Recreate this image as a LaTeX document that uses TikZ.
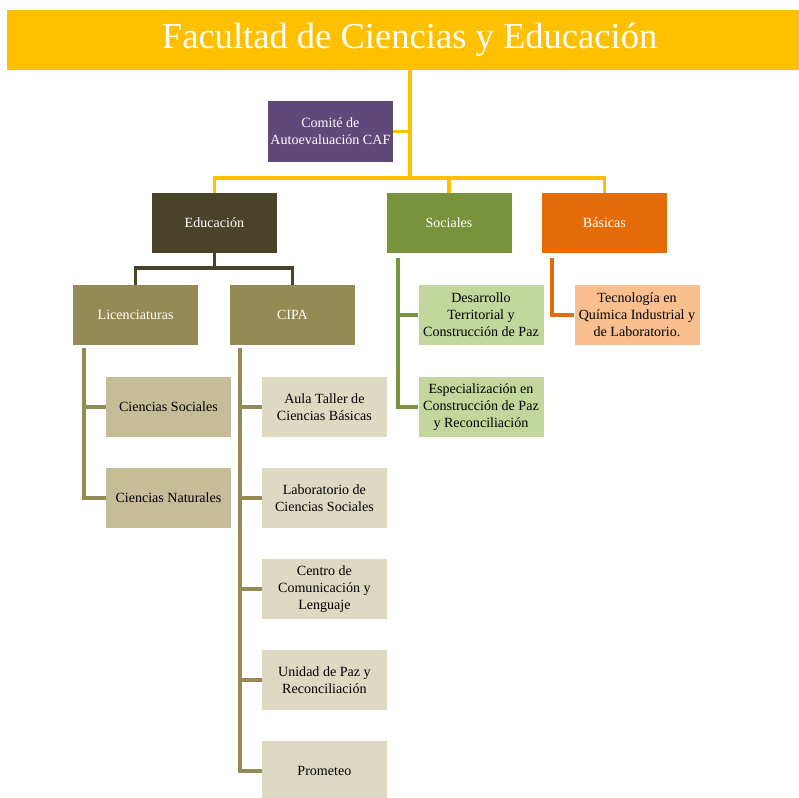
\documentclass[tikz,border=0pt]{standalone}
\usepackage{fontspec}
\setmainfont{Liberation Serif}
\usepackage{tikz}
\definecolor{cafyellow}{HTML}{FFC000}
\definecolor{cafpurple}{HTML}{5F497A}
\definecolor{cafdark}{HTML}{494429}
\definecolor{cafgreen}{HTML}{77933C}
\definecolor{caforange}{HTML}{E36C09}
\definecolor{cafolive}{HTML}{948A54}
\definecolor{caftan}{HTML}{C4BD97}
\definecolor{cafsand}{HTML}{DDD9C3}
\definecolor{caflime}{HTML}{C3D69B}
\definecolor{cafpeach}{HTML}{FABF8F}

\begin{document}
\begin{tikzpicture}[line join=miter,x=1.0cm,y=1.0cm,
  box/.style={rectangle,minimum width=3.125cm,minimum height=1.5cm,align=center,inner sep=1pt,font=\fontsize{10}{12}\selectfont},
  conn/.style={line width=2.6pt}]
\useasboundingbox (0,0) rectangle (19.975,19.95);
\node[fill=cafyellow,text=white,minimum width=20.13cm,minimum height=1.5cm,font=\fontsize{26}{30}\selectfont] (titulo) at (10.24,18.95) {Facultad de Ciencias y Educación};
\node[box,fill=cafpurple,text=white,minimum height=1.525cm] (comite) at (8.26,16.66) {Comité de\\Autoevaluación CAF};
\node[box,fill=cafdark,text=white] (edu) at (5.36,14.375) {Educación};
\node[box,fill=cafgreen,text=white] (soc) at (11.225,14.375) {Sociales};
\node[box,fill=caforange,text=white] (bas) at (15.11,14.375) {Básicas};
\node[box,fill=cafolive,text=white] (lic) at (3.39,12.075) {Licenciaturas};
\node[box,fill=cafolive,text=white] (cipa) at (7.31,12.075) {CIPA};
\node[box,fill=caftan] (csoc) at (4.21,9.775) {Ciencias Sociales};
\node[box,fill=caftan] (cnat) at (4.21,7.5) {Ciencias Naturales};
\node[box,fill=cafsand] (aula) at (8.11,9.775) {Aula Taller de\\Ciencias Básicas};
\node[box,fill=cafsand] (lab) at (8.11,7.5) {Laboratorio de\\Ciencias Sociales};
\node[box,fill=cafsand] (centro) at (8.11,5.225) {Centro de\\Comunicación y\\Lenguaje};
\node[box,fill=cafsand] (unidad) at (8.11,2.95) {Unidad de Paz y\\Reconciliación};
\node[box,fill=cafsand] (prom) at (8.11,0.675) {Prometeo};
\node[box,fill=caflime] (des) at (12.025,12.075) {Desarrollo\\Territorial y\\Construcción de Paz};
\node[box,fill=caflime] (esp) at (12.025,9.775) {Especialización en\\Construcción de Paz\\y Reconciliación};
\node[box,fill=cafpeach] (quim) at (15.925,12.075) {Tecnología en\\Química Industrial y\\de Laboratorio.};
\coordinate (cruce) at (10.25,15.5);
\draw[conn,cafyellow] (titulo.south -| cruce) -- (cruce);
\draw[conn,cafyellow] (comite.east) -- (comite.east -| cruce);
\draw[conn,cafyellow] (edu.north) |- (cruce) -| (bas.north);
\draw[conn,cafyellow] (soc.north |- cruce) -- (soc.north);
\coordinate (eduy) at (5.36,13.25);
\draw[conn,cafdark] (edu.south) -- (eduy);
\draw[conn,cafdark] (lic.north) |- (eduy) -| (cipa.north);
\coordinate (lictop) at (2.1,11.25);
\draw[conn,cafolive] (lictop) |- (cnat.west);
\draw[conn,cafolive] (csoc.west -| lictop) -- (csoc.west);
\coordinate (cipatop) at (6.0,11.25);
\draw[conn,cafolive] (cipatop) |- (prom.west);
\draw[conn,cafolive] (aula.west -| cipatop) -- (aula.west);
\draw[conn,cafolive] (lab.west -| cipatop) -- (lab.west);
\draw[conn,cafolive] (centro.west -| cipatop) -- (centro.west);
\draw[conn,cafolive] (unidad.west -| cipatop) -- (unidad.west);
\coordinate (soctop) at (9.95,13.5);
\draw[conn,cafgreen] (soctop) |- (esp.west);
\draw[conn,cafgreen] (des.west -| soctop) -- (des.west);
\coordinate (bastop) at (13.8,13.5);
\draw[conn,caforange] (bastop) |- (quim.west);
\end{tikzpicture}
\end{document}
